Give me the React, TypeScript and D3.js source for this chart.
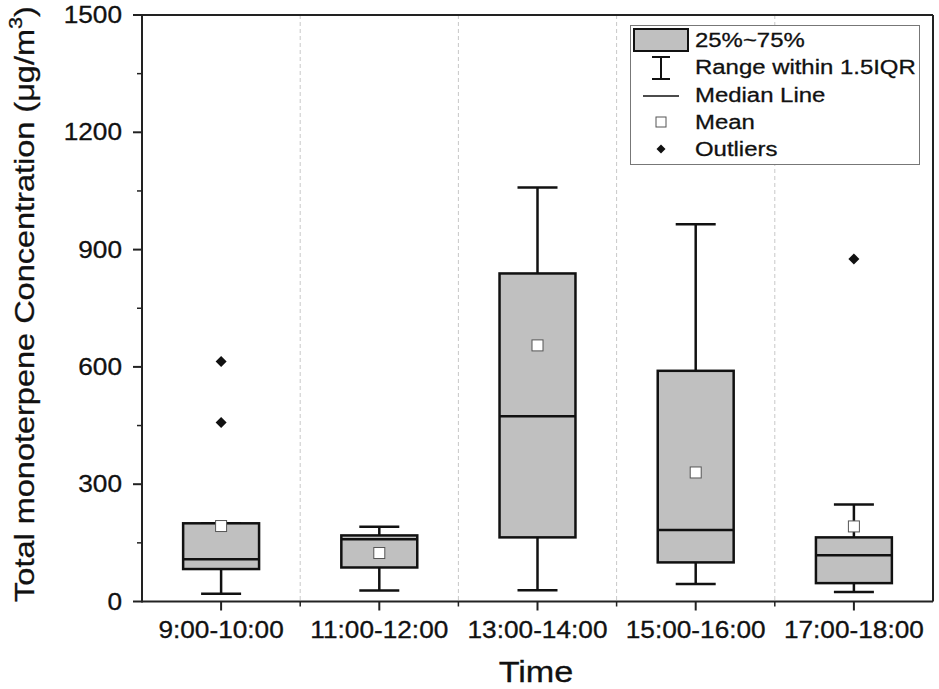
import React from "react";
import * as d3 from "d3";

const categories = ["9:00-10:00", "11:00-12:00", "13:00-14:00", "15:00-16:00", "17:00-18:00"];
const whiskerLow = [20, 28, 29, 45, 24];
const q1 = [83, 87, 164, 100, 47];
const median = [108, 159, 474, 183, 118];
const q3 = [200, 169, 839, 590, 164];
const whiskerHigh = [200, 191, 1059, 965, 248];
const means = [193, 124, 655, 330, 192];
const outliers: number[][] = [[614, 458], [], [], [], [876]];
const majorTicks = [0, 300, 600, 900, 1200, 1500];
const minorTicks = [150, 450, 750, 1050, 1350];
const legendLabels = ["25%~75%", "Range within 1.5IQR", "Median Line", "Mean", "Outliers"];

const W = 939, H = 689;
const left = 142, right = 933, top = 15, bottom = 601.5;
const FONT = "Arial, 'Liberation Sans', sans-serif";
const SX = 1.14;

function SText(props: { x: number; y: number; size: number; anchor?: string; children: React.ReactNode }) {
  const { x, y, size, anchor = "start", children } = props;
  return (
    <text transform={`translate(${x},${y}) scale(${SX},1)`} fontSize={size} textAnchor={anchor} fontFamily={FONT} fill="#111" stroke="#111" strokeWidth={0.3}>
      {children}
    </text>
  );
}

function diamondPath(r: number) {
  const p = d3.path();
  p.moveTo(0, -r);
  p.lineTo(r, 0);
  p.lineTo(0, r);
  p.lineTo(-r, 0);
  p.closePath();
  return p.toString();
}

export default function App() {
  const x = d3.scaleBand<string>().domain(categories).range([left, right]).padding(0);
  const y = d3.scaleLinear().domain([0, 1500]).range([bottom, top]);
  const bw = x.bandwidth();
  const boxW = bw * 0.48;
  const capW = 40;
  const boundaries = categories.slice(1).map((c) => x(c)!);

  const lx = 661;
  const legendY = [41, 68, 96, 123, 150];

  return (
    <svg width={W} height={H} style={{ position: "absolute", left: 0, top: 0, background: "#fff" }}>
      <rect x={0} y={0} width={W} height={H} fill="#fff" />
      {boundaries.map((bx, i) => (
        <line key={"g" + i} x1={bx} x2={bx} y1={top} y2={bottom} stroke="#c8c8c8" strokeWidth={1} strokeDasharray="4,3" />
      ))}
      {categories.map((c, i) => {
        const cx = x(c)! + bw / 2;
        return (
          <g key={c}>
            <line x1={cx} x2={cx} y1={y(whiskerLow[i])} y2={y(q1[i])} stroke="#111" strokeWidth={2.5} />
            <line x1={cx} x2={cx} y1={y(q3[i])} y2={y(whiskerHigh[i])} stroke="#111" strokeWidth={2.5} />
            <line x1={cx - capW / 2} x2={cx + capW / 2} y1={y(whiskerLow[i])} y2={y(whiskerLow[i])} stroke="#111" strokeWidth={2.5} />
            <line x1={cx - capW / 2} x2={cx + capW / 2} y1={y(whiskerHigh[i])} y2={y(whiskerHigh[i])} stroke="#111" strokeWidth={2.5} />
            <rect x={cx - boxW / 2} y={y(q3[i])} width={boxW} height={y(q1[i]) - y(q3[i])} fill="#c0c0c0" stroke="#111" strokeWidth={2.5} />
            <line x1={cx - boxW / 2} x2={cx + boxW / 2} y1={y(median[i])} y2={y(median[i])} stroke="#111" strokeWidth={2.5} />
            <rect x={cx - 5.5} y={y(means[i]) - 5.5} width={11} height={11} fill="#fff" stroke="#555" strokeWidth={1} />
            {outliers[i].map((v, j) => (
              <path key={j} d={diamondPath(5.5)} transform={`translate(${cx},${y(v)})`} fill="#111" />
            ))}
          </g>
        );
      })}
      <line x1={left} x2={right} y1={top} y2={top} stroke="#222" strokeWidth={2} />
      <line x1={right} x2={right} y1={top} y2={bottom} stroke="#222" strokeWidth={2} />
      <line x1={left} x2={right} y1={bottom} y2={bottom} stroke="#222" strokeWidth={2} />
      <line x1={left} x2={left} y1={top - 1} y2={bottom + 1} stroke="#222" strokeWidth={2} />
      {majorTicks.map((t) => (
        <g key={"m" + t}>
          <line x1={left - 9} x2={left} y1={y(t)} y2={y(t)} stroke="#222" strokeWidth={2} />
          <SText x={122} y={y(t) + 8} size={23} anchor="end">{t}</SText>
        </g>
      ))}
      {minorTicks.map((t) => (
        <line key={"n" + t} x1={left - 5} x2={left} y1={y(t)} y2={y(t)} stroke="#222" strokeWidth={1.5} />
      ))}
      {categories.map((c) => {
        const cx = x(c)! + bw / 2;
        return (
          <g key={"t" + c}>
            <line x1={cx} x2={cx} y1={bottom} y2={bottom + 9} stroke="#222" strokeWidth={2} />
            <SText x={cx} y={638} size={23} anchor="middle">{c}</SText>
          </g>
        );
      })}
      {boundaries.map((bx, i) => (
        <line key={"bt" + i} x1={bx} x2={bx} y1={bottom} y2={bottom + 5} stroke="#222" strokeWidth={1.5} />
      ))}
      <SText x={536} y={682} size={30} anchor="middle">Time</SText>
      <text transform={`translate(34,304) rotate(-90) scale(${SX},1)`} fontSize={28.5} textAnchor="middle" fontFamily={FONT} fill="#111" stroke="#111" strokeWidth={0.3}>
        Total monoterpene Concentration (μg/m<tspan dy={-12} fontSize={19}>3</tspan><tspan dy={12}>)</tspan>
      </text>
      <rect x={630.5} y={25.5} width={289} height={139} fill="#fff" stroke="#777" strokeWidth={1} />
      <rect x={634} y={29} width={54} height={22} fill="#c0c0c0" stroke="#111" strokeWidth={2} />
      <line x1={lx} x2={lx} y1={57} y2={79} stroke="#111" strokeWidth={2} />
      <line x1={lx - 9} x2={lx + 9} y1={57} y2={57} stroke="#111" strokeWidth={2} />
      <line x1={lx - 9} x2={lx + 9} y1={79} y2={79} stroke="#111" strokeWidth={2} />
      <line x1={643} x2={679} y1={96} y2={96} stroke="#111" strokeWidth={1.5} />
      <rect x={lx - 5} y={117} width={10} height={10} fill="#fff" stroke="#555" strokeWidth={1} />
      <path d={diamondPath(4.5)} transform={`translate(${lx},149)`} fill="#111" />
      {legendLabels.map((l, i) => (
        <SText key={l} x={695} y={legendY[i] + 6} size={21}>{l}</SText>
      ))}
    </svg>
  );
}
